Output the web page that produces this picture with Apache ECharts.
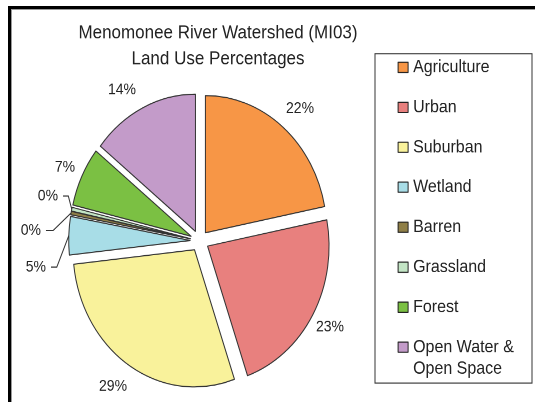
<!DOCTYPE html>
<html><head><meta charset="utf-8">
<script src="https://cdn.jsdelivr.net/npm/echarts@6/dist/echarts.min.js"></script>
<style>
html,body{margin:0;padding:0;background:#fff;overflow:hidden;width:535px;height:402px;}
#wrap{position:absolute;left:0;top:0;width:535px;height:356px;transform:scaleY(1.12921);transform-origin:0 0;}
#chart{width:535px;height:356px;}
#frame{position:absolute;left:8px;top:6px;width:600px;height:500px;border-top:3px solid #000;border-left:3px solid #000;}
#frame2{position:absolute;left:11px;top:9px;width:600px;height:500px;border-top:1px solid #9a9a9a;border-left:1px solid #9a9a9a;}
</style></head>
<body>
<div id="wrap"><div id="chart"></div></div>
<div id="frame"></div><div id="frame2"></div>
<script>
// ---- data ----
const titleLines = ['Menomonee River Watershed (MI03)', 'Land Use Percentages'];
const categories = ['Agriculture', 'Urban', 'Suburban', 'Wetland', 'Barren', 'Grassland', 'Forest', 'Open Water &\nOpen Space'];
const shares = [21.9, 22.7, 28.6, 4.5, 0.4, 0.45, 7.0, 14.3];
const colors = ['#F79646', '#E8807E', '#F9F29B', '#A8DDE7', '#8F7F47', '#C3E5C5', '#7BC043', '#C39BC9'];
const showLeader = [false, false, false, true, true, true, false, false];
// label nudges [dx, dy, bend dx]
const labelShift = [[-8, -8.6, 0], [-10.6, 6.2, 0], [7.9, 10, 0], [2.2, 28.3, 0], [-5.3, 17.6, -6], [11, -9, 8.3], [7.3, -4, 0], [2.7, -7.1, 0]];

const FONT = '"Liberation Sans", Arial, sans-serif';
const chart = echarts.init(document.getElementById('chart'), null, {devicePixelRatio: 2});
const total = shares.reduce((a, b) => a + b, 0);

chart.setOption({
  animation: false,
  title: {
    text: titleLines.join('\n'),
    left: 218, top: 17.6, padding: 0, textAlign: 'center',
    textStyle: {fontFamily: FONT, fontSize: 17, fontWeight: 'normal', color: '#222', lineHeight: 23}
  },
  legend: {
    orient: 'vertical', left: 397.6, top: 30.6, padding: 0,
    itemWidth: 10, itemHeight: 57, itemGap: -22.6,
    icon: 'path://M0,0L0,0M0,24H10V33H0ZM10,57L10,57',
    selectedMode: false,
    itemStyle: {borderColor: '#222', borderWidth: 1},
    formatter: name => name.indexOf('\n') >= 0 ? '{e| }\n' + name : name,
    textStyle: {fontFamily: FONT, fontSize: 16, lineHeight: 19, color: '#222',
      rich: {e: {fontFamily: FONT, fontSize: 16, lineHeight: 19, height: 19}}},
    data: categories
  },
  graphic: [{
    type: 'rect', shape: {x: 375, y: 47.6, width: 157, height: 291.6},
    style: {fill: 'none', stroke: '#333', lineWidth: 1}, silent: true
  }],
  series: [{
    type: 'pie',
    center: [199.5, 213.3], radius: 121.5,
    startAngle: 90, clockwise: true,
    selectedMode: 'multiple', selectedOffset: 9.3,
    avoidLabelOverlap: false,
    itemStyle: {borderColor: '#333', borderWidth: 1},
    select: {itemStyle: {borderColor: '#333', borderWidth: 1}},
    emphasis: {disabled: true},
    label: {
      show: true, position: 'outside', fontFamily: FONT, fontSize: 14, color: '#222',
      formatter: p => Math.round(p.value / total * 100) + '%'
    },
    labelLine: {show: false, length: 10, length2: 0, lineStyle: {color: '#333', width: 1}},
    labelLayout: function (p) {
      const s = labelShift[p.dataIndex];
      const out = {dx: s[0], dy: s[1]};
      if (showLeader[p.dataIndex] && p.labelLinePoints) {
        const d = p.labelLinePoints;
        out.labelLinePoints = [d[0], [d[1][0] + s[2], d[1][1] + s[1]], [d[2][0] + s[0], d[2][1] + s[1]]];
      }
      return out;
    },
    data: categories.map((c, i) => ({
      name: c, value: shares[i], selected: true,
      itemStyle: {color: colors[i]},
      select: {itemStyle: {color: colors[i]}},
      labelLine: showLeader[i] ? {show: true, length: 12, length2: 8} : {show: false}
    }))
  }]
});
</script>
</body></html>
